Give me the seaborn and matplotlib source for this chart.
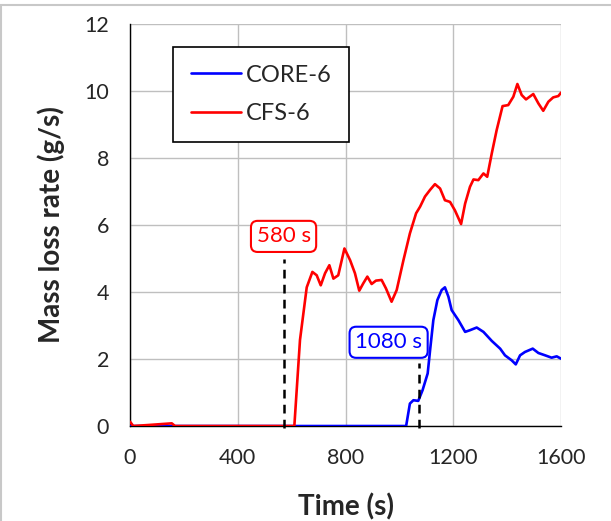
import pandas as pd
import seaborn as sns
import matplotlib.pyplot as plt
from matplotlib.ticker import MultipleLocator

# CFS-6 mass loss rate (g/s) vs time (s)
cfs_t = [0, 12, 68, 155, 167, 610, 631, 656, 677, 693, 708, 724, 740, 755, 773, 796,
         817, 835, 851, 866, 881, 897, 913, 934, 950, 971, 990, 1015, 1039, 1062, 1077,
         1095, 1114, 1132, 1151, 1169, 1188, 1206, 1229, 1244, 1262, 1275, 1293, 1312,
         1326, 1343, 1361, 1383, 1404, 1423, 1438, 1454, 1470, 1497, 1516, 1534, 1553,
         1571, 1590, 1600]
cfs_y = [0.13, 0, 0.03, 0.08, 0, 0, 2.57, 4.14, 4.6, 4.5, 4.2, 4.56, 4.8, 4.4, 4.5, 5.3,
         4.95, 4.56, 4.04, 4.26, 4.46, 4.24, 4.34, 4.36, 4.11, 3.71, 4.06, 4.95, 5.75, 6.35, 6.55,
         6.85, 7.05, 7.22, 7.09, 6.74, 6.69, 6.44, 6.03, 6.64, 7.14, 7.36, 7.34, 7.54,
         7.44, 8.14, 8.83, 9.55, 9.58, 9.83, 10.21, 9.88, 9.75, 9.91, 9.63, 9.41, 9.68,
         9.81, 9.85, 9.95]

# CORE-6
core_t = [0, 1025, 1039, 1052, 1070, 1086, 1105, 1114, 1126, 1141, 1157, 1169, 1182,
          1194, 1219, 1244, 1262, 1287, 1312, 1343, 1374, 1392, 1417, 1432, 1448, 1466,
          1495, 1516, 1541, 1565, 1584, 1600]
core_y = [0, 0, 0.67, 0.77, 0.75, 1.07, 1.57, 2.27, 3.16, 3.76, 4.06, 4.14, 3.86,
          3.46, 3.16, 2.81, 2.86, 2.94, 2.81, 2.54, 2.31, 2.11, 1.96, 1.84, 2.11, 2.21,
          2.31, 2.18, 2.11, 2.04, 2.08, 2.01]

series = ['CORE-6', 'CFS-6']
colors = ['#0000ff', '#ff0000']

# ignition markers
mark_labels = ['580 s', '1080 s']
mark_t = [573, 1072]
mark_top = [5.0, 1.87]
label_t = [570, 960]
label_y = [5.66, 2.5]

df = pd.concat([
    pd.DataFrame({'Time': core_t, 'MLR': core_y, 'series': 'CORE-6'}),
    pd.DataFrame({'Time': cfs_t, 'MLR': cfs_y, 'series': 'CFS-6'}),
])

sns.set_style('white')
plt.rcParams['font.family'] = ['Lato', 'DejaVu Sans']

fig = plt.figure(figsize=(6.11, 5.21), dpi=100)
ax = fig.add_axes([0.2128, 0.1823, 0.7054, 0.7716])

sns.lineplot(data=df, x='Time', y='MLR', hue='series', hue_order=series,
             palette=dict(zip(series, colors)), linewidth=1.9, sort=False,
             estimator=None, ax=ax, zorder=3)

for t, top, lab, lt, ly, c in zip(mark_t, mark_top, mark_labels, label_t, label_y, colors[::-1]):
    ax.plot([t, t], [-0.05, top], color='black', linestyle=(0, (3.5, 2.5)),
            linewidth=1.8, zorder=4, clip_on=False)
    ax.text(lt, ly, lab, color=c, fontsize=16, ha='center', va='center', zorder=5,
            bbox=dict(boxstyle='round,pad=0.25,rounding_size=0.3', fc='white', ec=c, lw=1.5))

ax.set_xlim(0, 1600)
ax.set_ylim(0, 12)
ax.xaxis.set_major_locator(MultipleLocator(400))
ax.xaxis.set_minor_locator(MultipleLocator(100))
ax.yaxis.set_major_locator(MultipleLocator(2))
ax.yaxis.set_minor_locator(MultipleLocator(0.5))
ax.grid(True, which='major', color='#bfbfbf', linewidth=1.0)
ax.set_axisbelow(True)

ax.tick_params(axis='both', which='both', direction='in', length=5, width=1,
               color='black', labelsize=15.5, labelcolor='#262626')
ax.tick_params(axis='x', which='both', pad=16)
ax.tick_params(axis='y', which='both', pad=15)

for s in ['top', 'right']:
    ax.spines[s].set_visible(False)
for s in ['left', 'bottom']:
    ax.spines[s].set_color('black')
    ax.spines[s].set_linewidth(1.0)

ax.set_xlabel('Time (s)', fontsize=20, fontweight='bold', labelpad=18)
ax.set_ylabel('Mass loss rate (g/s)', fontsize=20, fontweight='bold', labelpad=14)

leg = ax.legend(loc='upper left', bbox_to_anchor=(0.1006, 0.943), borderaxespad=0,
                fontsize=17, handlelength=2.1, handletextpad=0.2, labelspacing=0.75,
                fancybox=False, edgecolor='black', framealpha=1,
                borderpad=0.75)
leg.get_frame().set_linewidth(1.2)
leg.set_zorder(6)
for h in leg.get_lines():
    h.set_linewidth(1.9)

# light grey frame around the picture
fig.patches.append(plt.Rectangle((0.002, -0.01), 1.1, 1 - 5 / 521 + 0.01,
                                 transform=fig.transFigure, fill=False,
                                 ec='#c8c8c8', lw=1.5))

fig.savefig('out.png', dpi=100)
